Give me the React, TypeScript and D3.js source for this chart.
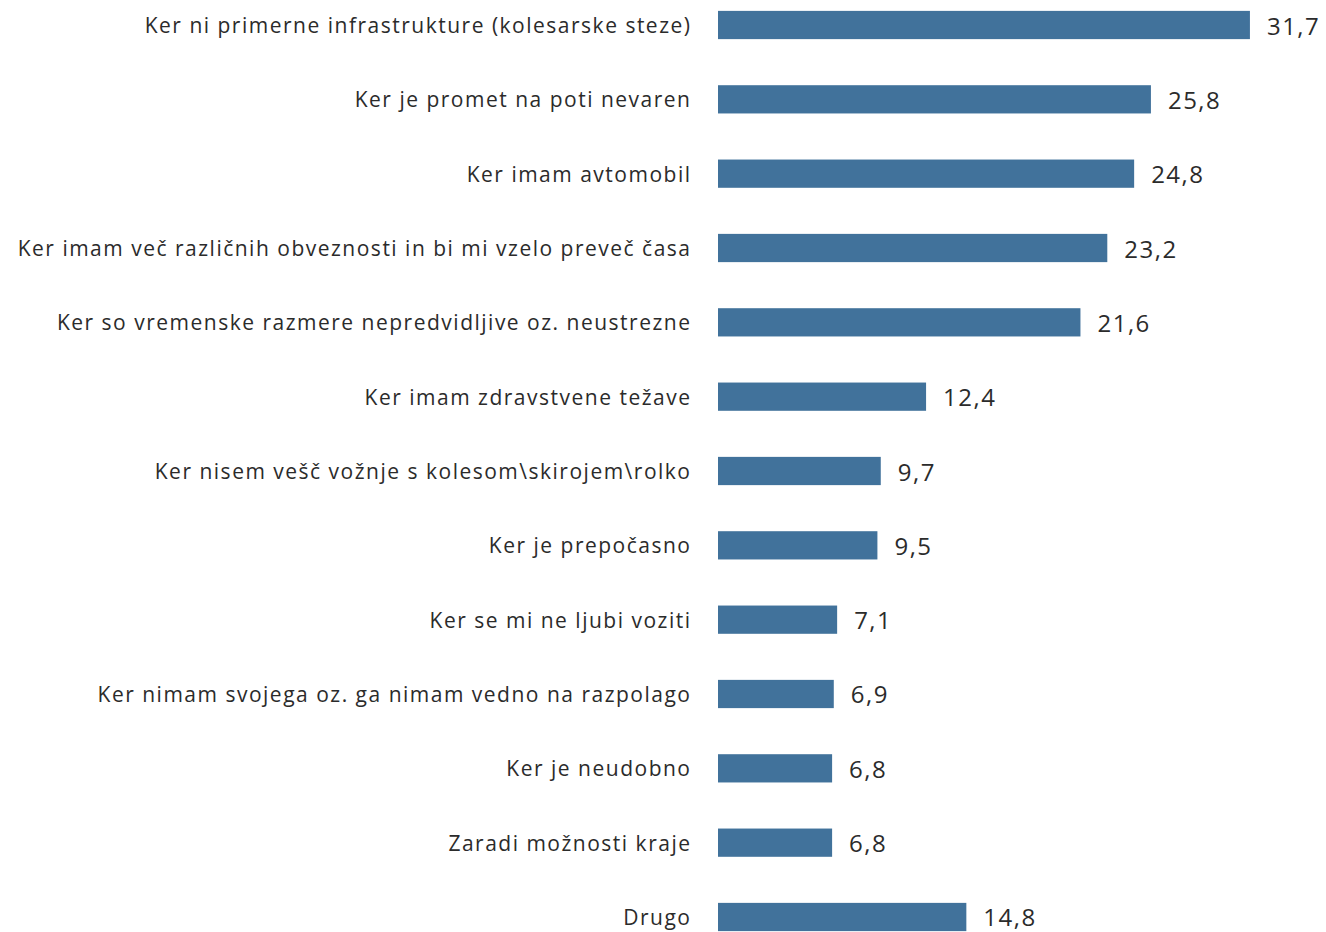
import React from "react";
import * as d3 from "d3";

const categories = [
  "Ker ni primerne infrastrukture (kolesarske steze)",
  "Ker je promet na poti nevaren",
  "Ker imam avtomobil",
  "Ker imam več različnih obveznosti in bi mi vzelo preveč časa",
  "Ker so vremenske razmere nepredvidljive oz. neustrezne",
  "Ker imam zdravstvene težave",
  "Ker nisem vešč vožnje s kolesom\\skirojem\\rolko",
  "Ker je prepočasno",
  "Ker se mi ne ljubi voziti",
  "Ker nimam svojega oz. ga nimam vedno na razpolago",
  "Ker je neudobno",
  "Zaradi možnosti kraje",
  "Drugo",
];
const values = [31.7, 25.8, 24.8, 23.2, 21.6, 12.4, 9.7, 9.5, 7.1, 6.9, 6.8, 6.8, 14.8];

const W = 1326;
const H = 932;
const barLeft = 718;
const pxPerUnit = 16.78;

export default function App() {
  const x = d3.scaleLinear().domain([0, 1]).range([barLeft, barLeft + pxPerUnit]);
  const y = d3
    .scaleBand<string>()
    .domain(categories)
    .range([25 - 74.33 / 2, 917 + 74.33 / 2])
    .paddingInner(0.62)
    .paddingOuter(0.31);
  const fmt = (v: number) => v.toFixed(1).replace(".", ",");
  return (
    <svg
      width={W}
      height={H}
      style={{ position: "absolute", left: 0, top: 0, background: "#fff" }}
      fontFamily="'Open Sans', sans-serif"
    >
      {categories.map((c, i) => {
        const yc = (y(c) as number) + y.bandwidth() / 2;
        return (
          <g key={c}>
            <text
              x={691.5}
              y={yc}
              textAnchor="end"
              dominantBaseline="central"
              fontSize={21}
              letterSpacing={1.5}
              fill="#2b2b2b"
            >
              {c}
            </text>
            <rect
              x={x(0)}
              y={y(c)}
              width={x(values[i]) - x(0)}
              height={y.bandwidth()}
              fill="#41729B"
            />
            <text
              x={x(values[i]) + 17}
              y={yc}
              dominantBaseline="central"
              fontSize={24}
              letterSpacing={1.5}
              fill="#2b2b2b"
            >
              {fmt(values[i])}
            </text>
          </g>
        );
      })}
    </svg>
  );
}
